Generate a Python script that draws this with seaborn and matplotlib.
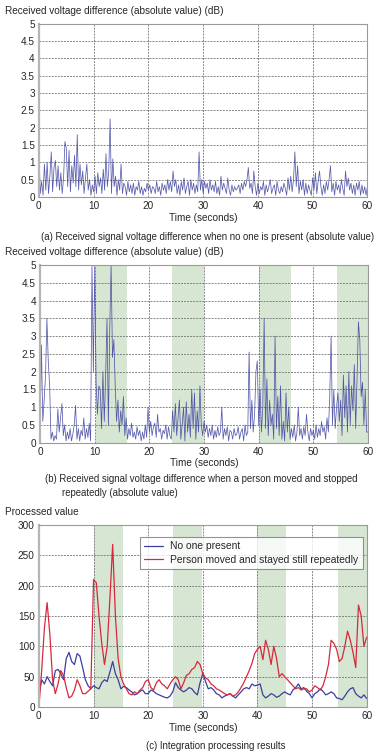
"""
Radio sensing figure: raw voltage difference and integrated values
"""

import numpy as np
import matplotlib
matplotlib.use("Agg")
import matplotlib.pyplot as plt
import seaborn as sns

# (a) no one present, 4 samples per second
empty_db = [
    1.35, 0.1, 0.45, 0.05,  0.95, 0.2, 1.0, 0.1,  0.6, 1.3, 0.15, 0.85,
    1.05, 0.3, 0.9, 0.2,  0.7, 0.1, 0.55, 1.6,  1.4, 0.3, 1.35, 0.15,
    0.9, 0.4, 1.2, 0.3,  1.8, 0.2, 0.95, 0.35,  0.75, 0.1, 0.55, 0.95,
    0.2, 0.5, 0.05, 0.35,  0.15, 0.6, 0.1, 0.7,  0.3, 0.55, 0.1, 0.8,
    0.2, 1.25, 0.3, 0.75,  2.25, 0.1, 1.1, 0.3,  0.6, 0.05, 0.5, 0.2,
    0.95, 0.1, 0.4, 0.3,  0.05, 0.45, 0.15, 0.35,  0.1, 0.4, 0.05, 0.3,
    0.2, 0.45, 0.1, 0.3,  0.05, 0.25, 0.15, 0.4,  0.2, 0.35, 0.1, 0.3,
    0.25, 0.1, 0.45, 0.15,  0.3, 0.05, 0.4, 0.2,  0.35, 0.1, 0.5, 0.2,
    0.45, 0.15, 0.75, 0.3,  0.5, 0.1, 0.35, 0.05,  0.45, 0.2, 0.55, 0.1,
    0.3, 0.45, 0.05, 0.5,  0.2, 0.4, 0.1, 0.35,  0.15, 1.3, 0.2, 0.5,
    0.1, 0.45, 0.25, 0.4,  0.1, 0.5, 0.2, 0.35,  0.15, 0.45, 0.1, 0.3,
    0.05, 0.6, 0.2, 0.4,  0.25, 0.1, 0.55, 0.2,  0.05, 0.35, 0.15, 0.3,
    0.2, 0.25, 0.35, 0.1,  0.4, 0.2, 0.45, 0.3,  0.5, 0.85, 0.25, 0.4,
    0.1, 0.75, 0.3, 0.05,  0.4, 0.1, 0.3, 0.2,  0.45, 0.05, 0.35, 0.15,
    0.3, 0.5, 0.1, 0.25,  0.35, 0.05, 0.45, 0.2,  0.1, 0.3, 0.15, 0.4,
    0.25, 0.05, 0.55, 0.2,  0.6, 0.15, 0.5, 1.3,  0.3, 0.9, 0.1, 0.45,
    0.2, 0.5, 0.05, 0.4,  0.1, 0.35, 0.2, 0.05,  0.55, 0.2, 0.7, 0.1,
    0.45, 0.75, 0.3, 0.05,  0.35, 0.1, 0.45, 0.2,  0.5, 0.9, 0.15, 0.4,
    0.05, 0.45, 0.2, 0.35,  0.1, 0.5, 0.25, 0.05,  0.75, 0.3, 0.55, 0.2,
    0.4, 0.1, 0.35, 0.05,  0.4, 0.2, 0.45, 0.05,  0.35, 0.1, 0.3, 0.05,
    0.3,
]

# (b) person moved and stopped repeatedly, 4 samples per second
moving_db = [
    0.3, 2.75, 0.6, 1.2,  1.9, 3.5, 2.3, 1.6,  0.1, 0.3, 0.05, 0.2,
    0.1, 0.95, 0.3, 0.7,  1.1, 0.2, 0.5, 0.05,  0.3, 0.1, 0.4, 0.05,
    0.25, 0.5, 1.05, 0.1,  0.4, 0.05, 0.35, 0.2,  0.7, 0.1, 0.4, 0.15,
    0.55, 0.05, 5.0, 2.0,  5.0, 1.7, 0.8, 1.6,  1.5, 0.4, 2.0, 0.6,
    1.9, 3.5, 0.5, 3.2,  5.0, 2.4, 2.9, 1.6,  0.6, 1.2, 0.3, 0.9,
    0.5, 1.3, 0.2, 0.7,  0.1, 0.4, 0.2, 0.55,  0.15, 0.3, 0.1, 0.45,
    0.2, 0.35, 0.05, 0.3,  0.1, 0.5, 0.15, 1.0,  0.3, 0.6, 0.2, 0.45,
    0.55, 0.15, 0.8, 0.3,  0.4, 0.1, 0.35, 0.25,  0.5, 0.1, 0.45, 0.2,
    0.1, 0.9, 0.3, 1.1,  0.2, 0.7, 1.2, 0.1,  0.5, 1.0, 0.05, 1.15,
    0.3, 0.8, 0.15, 1.5,  0.4, 1.4, 0.1, 0.9,  0.3, 1.6, 0.5, 0.2,
    0.6, 0.3, 0.5, 0.15,  0.4, 0.2, 0.5, 0.1,  0.35, 0.15, 0.45, 0.2,
    0.3, 1.0, 0.1, 0.4,  0.2, 0.45, 0.05, 0.35,  0.3, 0.1, 0.4, 0.2,
    0.25, 0.45, 0.1, 0.3,  0.4, 0.05, 0.5, 0.2,  0.3, 2.55, 0.4, 1.2,
    0.3, 0.8, 2.0, 2.3,  0.5, 1.5, 0.3, 1.0,  3.5, 0.4, 1.8, 0.2,
    1.2, 0.5, 0.8, 0.1,  3.0, 0.4, 1.3, 0.2,  1.6, 0.1, 0.6, 0.05,
    1.4, 0.3, 1.0, 0.1,  0.4, 0.15, 0.5, 0.05,  0.3, 1.0, 0.2, 0.4,
    0.1, 0.45, 0.2, 0.8,  0.3, 0.05, 0.4, 0.2,  0.35, 0.1, 0.5, 0.15,
    0.4, 0.2, 0.6, 0.3,  0.45, 0.1, 0.7, 0.3,  1.3, 3.0, 0.5, 1.5,
    0.4, 1.0, 1.4, 0.6,  1.2, 0.2, 1.9, 0.7,  1.6, 0.3, 2.0, 0.5,
    1.6, 0.9, 2.2, 0.4,  1.8, 3.4, 2.9, 1.3,  1.7, 0.5, 1.5, 0.3,
    0.3,
]

# (c) integration results, 2 samples per second
proc_empty = [
    20, 45, 38, 50, 42, 35, 60, 62, 55, 45, 80, 90, 75, 70, 88, 84, 65, 45, 35, 30,
    35, 32, 30, 40, 45, 42, 58, 75, 55, 45, 30, 34, 32, 28, 25, 20, 22, 26, 28, 22,
    22, 28, 26, 22, 20, 18, 16, 15, 18, 25, 40, 32, 28, 25, 28, 32, 30, 24, 20, 40,
    55, 42, 30, 32, 28, 22, 20, 15, 18, 20, 22, 18, 15, 20, 25, 30, 32, 30, 38, 35,
    36, 38, 20, 15, 18, 22, 20, 16, 18, 22, 25, 22, 20, 28, 32, 38, 30, 32, 26, 22,
    15, 22, 25, 30, 26, 20, 22, 25, 22, 15, 14, 12, 18, 25, 30, 32, 22, 18, 15, 20,
    14,
]
proc_moving = [
    0, 60, 130, 172, 120, 45, 22, 38, 60, 52, 32, 15, 18, 28, 45, 35, 22, 22, 26, 30,
    210, 205, 150, 105, 70, 100, 180, 268, 150, 80, 50, 38, 30, 22, 20, 25, 22, 28, 32, 42,
    45, 32, 28, 40, 45, 38, 35, 30, 38, 45, 50, 45, 30, 40, 52, 55, 62, 65, 75, 70,
    55, 48, 45, 38, 35, 30, 28, 25, 22, 20, 22, 18, 20, 25, 32, 40, 50, 60, 72, 88,
    95, 100, 78, 110, 95, 70, 100, 80, 50, 55, 50, 45, 40, 35, 30, 32, 28, 30, 30, 25,
    28, 35, 32, 28, 35, 50, 70, 110, 105, 95, 75, 80, 100, 125, 110, 90, 65, 168, 150, 100,
    115,
]

# periods with the person still (shaded)
still_b = [(10.2, 15.9), (24.1, 30.0), (40.1, 45.9), (54.3, 60.0)]
still_c = [(10.0, 15.3), (24.6, 29.9), (40.0, 45.2), (54.7, 60.0)]

BLUE = "#3b3f9e"
RED = "#d6293d"
SHADE = "#d6e6d2"

sns.set_style("white")
plt.rcParams["font.family"] = ["Liberation Sans", "DejaVu Sans"]
plt.rcParams["font.size"] = 7.2


def style_axes(ax, ymax, ystep):
    ax.set_xlim(0, 60)
    ax.set_ylim(0, ymax)
    ax.set_xticks(np.arange(0, 61, 10))
    yt = np.arange(0, ymax + ystep / 2, ystep)
    ax.set_yticks(yt)
    ax.set_yticklabels([f"{v:g}" for v in yt])
    ax.grid(True, linestyle=(0, (2.5, 1.5)), color="#666666", linewidth=0.55)
    ax.tick_params(length=0, pad=3, labelsize=7.2)
    for s in ax.spines.values():
        s.set_color("#9a9a9a")
        s.set_linewidth(0.8)
    ax.spines["left"].set_linewidth(1.6)
    ax.spines["left"].set_color("#b5b5b5")
    ax.set_xlabel("Time (seconds)", fontsize=7.2, labelpad=1)
    ax.set_ylabel("")


fig = plt.figure(figsize=(3.78, 7.56), dpi=100)

# panel (a)
ax_a = fig.add_axes([0.103, 0.7394, 0.869, 0.2295])
t4 = np.linspace(0, 60, len(empty_db))
sns.lineplot(x=t4, y=empty_db, ax=ax_a, color=BLUE, linewidth=0.55, alpha=0.85)
style_axes(ax_a, 5, 0.5)
fig.text(0.013, 0.985, "Received voltage difference (absolute value) (dB)",
         fontsize=7.2, va="center")
fig.text(0.55, 0.687,
         "(a) Received signal voltage difference when no one is present (absolute value)",
         fontsize=6.9, ha="center", va="center")

# panel (b)
ax_b = fig.add_axes([0.106, 0.4144, 0.8675, 0.2351])
for lo, hi in still_b:
    ax_b.axvspan(lo, hi, color=SHADE, zorder=0, lw=0)
sns.lineplot(x=np.linspace(0, 60, len(moving_db)), y=moving_db, ax=ax_b,
             color=BLUE, linewidth=0.55, alpha=0.85)
style_axes(ax_b, 5, 0.5)
ax_b.set_axisbelow(True)
fig.text(0.013, 0.667, "Received voltage difference (absolute value) (dB)",
         fontsize=7.2, va="center")
fig.text(0.119, 0.367,
         "(b) Received signal voltage difference when a person moved and stopped",
         fontsize=6.9, va="center")
fig.text(0.165, 0.348, "repeatedly (absolute value)", fontsize=6.9, va="center")

# panel (c)
ax_c = fig.add_axes([0.103, 0.0648, 0.867, 0.2408])
for lo, hi in still_c:
    ax_c.axvspan(lo, hi, color=SHADE, zorder=0, lw=0)
t2 = np.linspace(0, 60, len(proc_empty))
sns.lineplot(x=t2, y=proc_empty, ax=ax_c, color=BLUE, linewidth=0.9,
             label="No one present")
sns.lineplot(x=t2, y=proc_moving, ax=ax_c, color=RED, linewidth=0.9,
             label="Person moved and stayed still repeatedly")
style_axes(ax_c, 300, 50)
ax_c.set_axisbelow(True)
leg = ax_c.legend(loc="upper right", bbox_to_anchor=(0.988, 0.936), fontsize=7.4,
                  frameon=True, fancybox=False, handlelength=1.8, borderpad=0.45,
                  labelspacing=0.35, handletextpad=0.7, borderaxespad=0)
leg.get_frame().set_edgecolor("#777777")
leg.get_frame().set_linewidth(0.8)
fig.text(0.013, 0.323, "Processed value", fontsize=7.2, va="center")
fig.text(0.57, 0.013, "(c) Integration processing results",
         fontsize=6.9, ha="center", va="center")

plt.savefig("out.png", dpi=100)
plt.close()
